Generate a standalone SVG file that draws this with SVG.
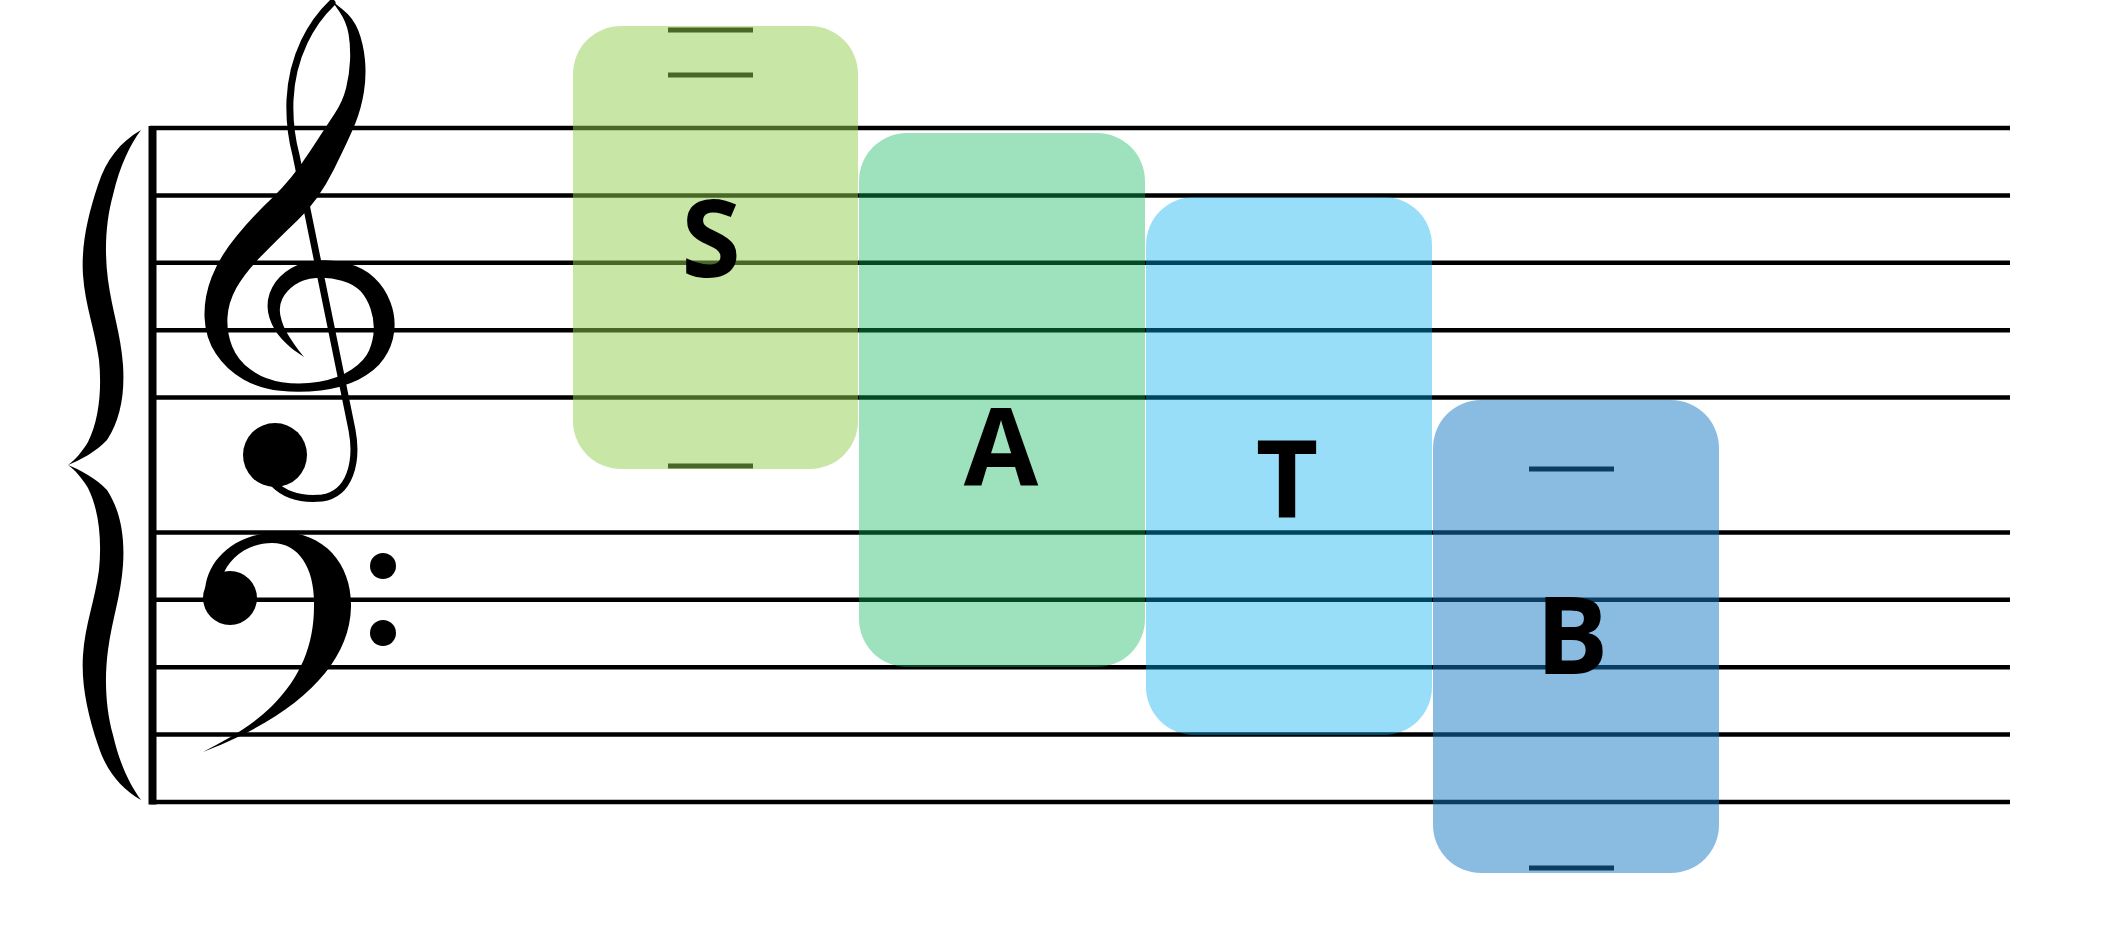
<svg xmlns="http://www.w3.org/2000/svg" width="2105" height="931" viewBox="0 0 2105 931">
  <style>
    .staff { stroke: #000; stroke-width: 4.5px; }
    .ledger { stroke: #000; stroke-width: 5px; }
    .thin { fill: none; stroke: #000; stroke-width: 7px; stroke-linecap: round; stroke-linejoin: round; }
    .lbl { font-family: "Open Sans", "Noto Sans", "Liberation Sans", sans-serif; font-weight: 700; font-size: 108px; fill: #000; text-anchor: middle; }
  </style>
  <rect width="2105" height="931" fill="#fff"/>

  <g id="staff">
    <line class="staff" x1="150" y1="128" x2="2010" y2="128"/>
    <line class="staff" x1="150" y1="195.4" x2="2010" y2="195.4"/>
    <line class="staff" x1="150" y1="262.8" x2="2010" y2="262.8"/>
    <line class="staff" x1="150" y1="330.2" x2="2010" y2="330.2"/>
    <line class="staff" x1="150" y1="397.6" x2="2010" y2="397.6"/>
    <line class="staff" x1="150" y1="532.4" x2="2010" y2="532.4"/>
    <line class="staff" x1="150" y1="599.8" x2="2010" y2="599.8"/>
    <line class="staff" x1="150" y1="667.2" x2="2010" y2="667.2"/>
    <line class="staff" x1="150" y1="734.6" x2="2010" y2="734.6"/>
    <line class="staff" x1="150" y1="802" x2="2010" y2="802"/>
    <rect x="148.5" y="126" width="8" height="678.5" fill="#000"/>
  </g>

  <g id="brace" fill="#000">
    <path d="M141,130 C120,142 106,160 98,185 C88,215 81,245 83,275 C85,305 95,330 99,360 C102,390 99,420 88,442 C82,452 75,460 68,465 C80,460 96,452 107,440 C120,420 125,395 123,365 C121,335 112,310 108,280 C104,250 106,220 113,195 C120,165 130,145 141,130 Z"/>
    <path transform="translate(0,930) scale(1,-1)" d="M141,130 C120,142 106,160 98,185 C88,215 81,245 83,275 C85,305 95,330 99,360 C102,390 99,420 88,442 C82,452 75,460 68,465 C80,460 96,452 107,440 C120,420 125,395 123,365 C121,335 112,310 108,280 C104,250 106,220 113,195 C120,165 130,145 141,130 Z"/>
  </g>

  <g id="treble-clef">
    <path class="thin" d="M332,3 C312,22 292,55 290,100 C289,125 292,140 296,155 L352,430 C358,462 350,494 322,498 C302,500 285,495 274,484"/>
    <path fill="#000" d="M332,1 L339.3,11.55 Q346.6,22.1 348.6,34.2 Q350.6,46.3 350.05,60.35 Q349.5,74.4 346.1,87.9 Q342.7,101.4 334.75,113.4 Q326.8,125.4 309.15,152.55 Q291.5,179.7 272.15,197.95 Q252.8,216.2 236.2,236.4 Q219.6,256.6 211.7,276.9 Q203.8,297.2 204.55,317.4 Q205.3,337.6 215.9,353.85 Q226.5,370.1 243.4,379.4 Q260.3,388.7 280.15,390.85 Q300,393 320.8,390.4 Q341.6,387.8 358.35,379.65 Q375.1,371.5 383.8,358.85 Q392.5,346.2 394.2,331.45 Q395.9,316.7 390.45,302.15 Q385,287.6 374.3,277.65 Q363.6,267.7 347.15,263.35 Q330.7,259 313.9,261 Q297.1,263 285.45,272 Q273.8,281 269.65,293.35 Q265.5,305.7 269.5,317.95 Q273.5,330.2 281.8,338.95 Q290.1,347.7 297.05,352.35 L304,357 L298.95,350.65 Q293.9,344.3 288.2,335.05 Q282.5,325.8 280.5,316.05 Q278.5,306.3 282.35,298.65 Q286.2,291 294.55,285 Q302.9,279 316.1,278 Q329.3,277 341.85,280.65 Q354.4,284.3 360.7,291.35 Q367,298.4 370.55,308.85 Q374.1,319.3 373.8,329.55 Q373.5,339.8 369.2,350.15 Q364.9,360.5 351.65,369.4 Q338.4,378.3 319.2,381.65 Q300,385 281.85,382.15 Q263.7,379.3 250.6,369.6 Q237.5,359.9 232.1,346.15 Q226.7,332.4 227.45,317.6 Q228.2,302.8 236.3,288.1 Q244.4,273.4 260.8,256.6 Q277.2,239.8 297.85,220.05 Q318.5,200.3 333.85,169.45 Q349.2,138.6 355.25,123.6 Q361.3,108.6 363.9,92.1 Q366.5,75.6 364.95,59.65 Q363.4,43.7 358.4,30.8 Q353.4,17.9 342.7,9.45 L332,1 Z"/>
    <circle cx="275" cy="455" r="32" fill="#000"/>
  </g>

  <g id="bass-clef" fill="#000">
    <circle cx="230" cy="598" r="27"/>
    <path d="M205,596 C204,560 236,533 278,532 C325,531 352,565 351,607 C350,657 310,702 240,736 C228,742 215,747 203,752 C226,740 252,726 272,706 C300,678 314,646 314,606 C315,570 300,543 272,543 C248,543 228,558 222,578 Z"/>
    <circle cx="383" cy="566" r="13"/>
    <circle cx="383" cy="633" r="13"/>
  </g>

  <g id="ledgers">
    <line class="ledger" x1="668" y1="30" x2="753" y2="30"/>
    <line class="ledger" x1="668" y1="75" x2="753" y2="75"/>
    <line class="ledger" x1="668" y1="466" x2="753" y2="466"/>
    <line class="ledger" x1="1529" y1="469" x2="1614" y2="469"/>
    <line class="ledger" x1="1529" y1="868" x2="1614" y2="868"/>
  </g>

  <g id="node-S">
    <rect x="573" y="26" width="285" height="443" rx="48" fill="rgb(145,205,75)" fill-opacity="0.5"/>
    <text class="lbl" x="711" y="277" font-size="112">S</text>
  </g>
  <g id="node-A">
    <rect x="859" y="133" width="286" height="534" rx="48" fill="rgb(10,180,90)" fill-opacity="0.4"/>
    <text class="lbl" x="1001" y="485">A</text>
  </g>
  <g id="node-T">
    <rect x="1146" y="197" width="286" height="538" rx="48" fill="rgb(0,172,237)" fill-opacity="0.4"/>
    <text class="lbl" x="1287" y="517">T</text>
  </g>
  <g id="node-B">
    <rect x="1433" y="400" width="286" height="473" rx="48" fill="rgb(21,121,197)" fill-opacity="0.5"/>
    <text class="lbl" x="1572" y="674">B</text>
  </g>
</svg>
